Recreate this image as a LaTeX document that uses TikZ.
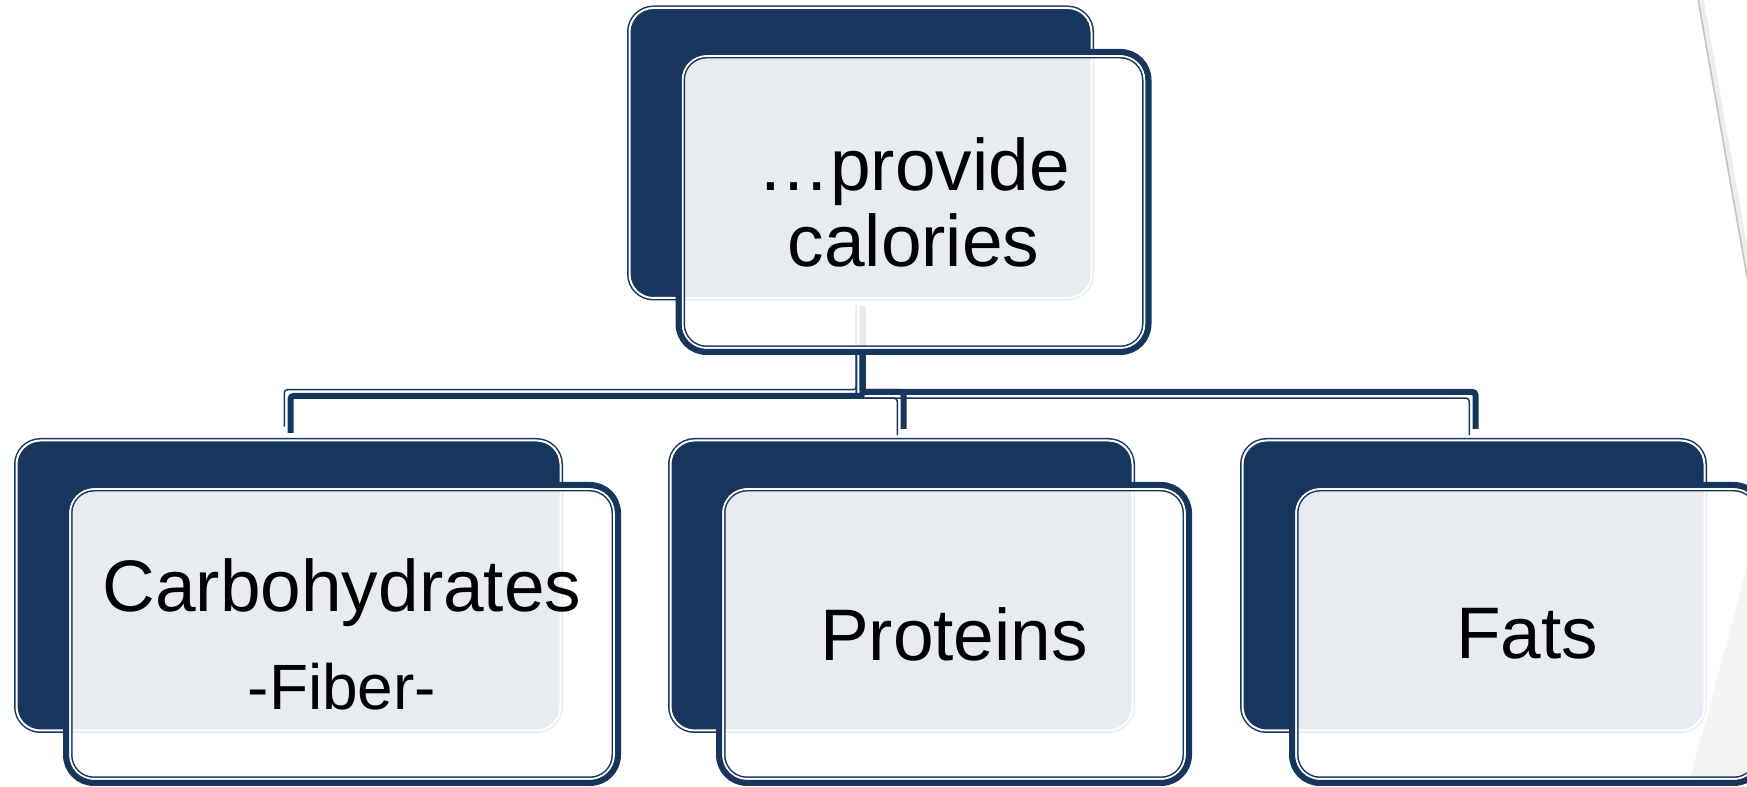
\documentclass[tikz,border=0pt]{standalone}
\usepackage{fontspec}
\setmainfont{Liberation Sans}
\usetikzlibrary{backgrounds,calc}
\definecolor{boxNavy}{RGB}{23,54,93}
\definecolor{wedgeTint}{RGB}{165,145,140}
\tikzset{
  backbox/.style={
    rectangle,
    rounded corners=12pt,
    fill=boxNavy,
    draw=boxNavy,
    line width=0.75pt,
    double=white,
    double distance=1pt,
    outer sep=0pt,
    minimum width=231pt,
    minimum height=145pt
  },
  frontbox/.style={
    rectangle,
    rounded corners=12pt,
    fill=white,
    fill opacity=0.9,
    text opacity=1,
    draw=boxNavy,
    line width=0.75pt,
    double=white,
    double distance=1pt,
    outer sep=0pt,
    inner sep=2pt,
    minimum width=231pt,
    minimum height=145pt,
    align=center,
    font=\fontsize{36.5}{38}\selectfont
  },
  wide/.style={minimum width=272pt},
  frontring/.style={draw=boxNavy, line width=3pt, rounded corners=14pt},
  busline/.style={draw=boxNavy, rounded corners=1.5pt, shorten <=5pt, shorten >=4.75pt}
}
\newcommand{\FrontRing}[1]{%
  \draw[frontring] ([shift={(-2pt,2pt)}]#1.north west) rectangle ([shift={(2pt,-2pt)}]#1.south east);
}

\begin{document}
\begin{tikzpicture}[x=1pt,y=1pt]
  \useasboundingbox (0,0) rectangle (873.5,393.5);
  \clip (0,0) rectangle (873.5,393.5);

  % slide decoration
  \draw[black!7, line width=2.5pt] (850.5,394) -- (881.5,218.5);
  \draw[black!24, line width=0.8pt] (849,394) -- (880,218.5);

  % top pair
  \node[backbox] (topback) at (430.25,317) {};
  \node[frontbox, minimum height=146pt] (topfront) at (456.75,292.5) {…provide\\calories};
  \FrontRing{topfront}

  % bottom pairs
  \node[backbox, wide] (carbback) at (144.25,100.75) {};
  \node[frontbox, wide] (carbfront) at (171,76.5) {Carbohydrates\\[11pt]{\fontsize{32}{34}\selectfont -Fiber-}};
  \FrontRing{carbfront}

  \node[backbox] (protback) at (450.75,100.75) {};
  \node[frontbox] (protfront) at (477,76.5) {Proteins};
  \FrontRing{protfront}

  \node[backbox] (fatback) at (736.75,100.75) {};
  \node[frontbox] (fatfront) at (763.5,76.5) {Fats};
  \FrontRing{fatfront}

  % connectors
  \coordinate (bus) at (0,196.5);
  \coordinate (hub) at (topback.south |- bus);
  \coordinate (carbturn) at (carbback.north |- bus);
  \coordinate (protturn) at (protback.north |- bus);
  \coordinate (fatturn) at (fatback.north |- bus);

  \begin{scope}[on background layer]
    \fill[wedgeTint] (873.5,110) -- (845,4) -- (873.5,4) -- cycle;
    \foreach \w/\dx/\dy in {3pt/1pt/-1pt, 0.75pt/-2.125pt/2.125pt}
      \draw[busline, line width=\w] ([shift={(\dx,\dy)}]topback.south) -- ([shift={(\dx,\dy)}]hub) -- ([shift={(\dx,\dy)}]carbturn) -- ([shift={(\dx,\dy)}]carbback.north);
    \foreach \w/\d in {3pt/1pt, 0.75pt/-2.125pt}
      \foreach \turn/\goal in {protturn/protback, fatturn/fatback}
        \draw[busline, line width=\w] ([shift={(\d,\d)}]topback.south) -- ([shift={(\d,\d)}]hub) -- ([shift={(\d,\d)}]\turn) -- ([shift={(\d,\d)}]\goal.north);
  \end{scope}
\end{tikzpicture}
\end{document}
